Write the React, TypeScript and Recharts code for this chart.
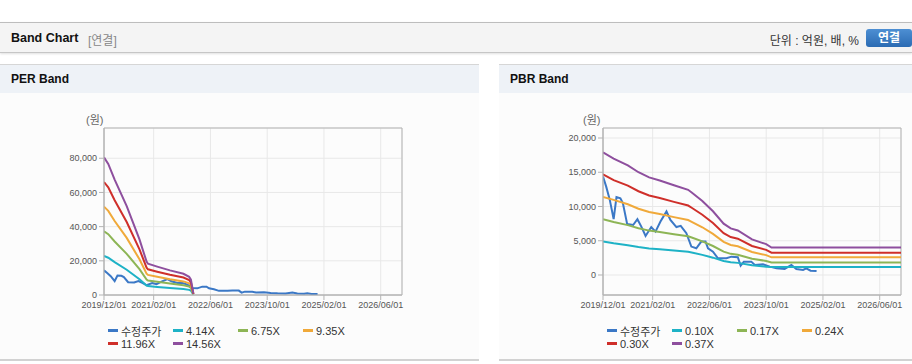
import React from 'react';
import { LineChart, Line, XAxis, YAxis, CartesianGrid, ReferenceArea } from 'recharts';

// ---------- shared x axis (months since 2019/12) ----------
const xTickMonths = [0, 14, 30, 46, 62, 78];
const xTickLabels = ['2019/12/01', '2021/02/01', '2022/06/01', '2023/10/01', '2025/02/01', '2026/06/01'];
const xDomain: [number, number] = [0, 84];

// ---------- 수정주가 (adjusted price) ----------
const priceMonths = [0, 0.9, 1.9, 3, 3.8, 4.9, 5.6, 6.8, 8.5, 9.7, 10.8, 12, 13.6, 14.8, 16.2, 17.9, 19, 20.7, 21.9, 23.5, 24.9, 26.3, 27.7, 28.9, 29.6, 31, 32.4, 34.8, 36.2, 38, 38.8, 39.7, 41.8, 42.8, 45.1, 47, 48.9, 51.2, 53.1, 54.5, 56.4, 57.3, 58.5, 60.2];
const priceValues = [14390, 12900, 11000, 8150, 11370, 11200, 10500, 7460, 7300, 8150, 7070, 5700, 7000, 6340, 7800, 9270, 8050, 7000, 7170, 6100, 4150, 3900, 4880, 4880, 3900, 3400, 2440, 2440, 2680, 2590, 1370, 1950, 1950, 1460, 1560, 1220, 980, 880, 1460, 880, 730, 980, 630, 590];

// ---------- PER band ----------
const perMonths = [0, 1.2, 3, 6.4, 10, 12, 12.4, 15, 18.6, 22.4, 24, 24.5, 25.2];
const per414 = [22900, 21800, 19200, 14800, 9240, 5540, 5200, 4720, 4090, 3530, 3010, 2560, 230];
const per675 = [37300, 35600, 31300, 24100, 15100, 9040, 8480, 7700, 6680, 5750, 4910, 4170, 370];
const per935 = [51700, 49200, 43300, 33400, 20900, 12500, 11750, 10660, 9240, 7960, 6800, 5780, 510];
const per1196 = [66100, 63000, 55400, 42700, 26700, 16000, 15030, 13640, 11830, 10190, 8710, 7390, 660];
const per1456 = [80500, 76700, 67500, 52000, 32500, 19500, 18300, 16600, 14400, 12400, 10600, 9000, 800];
const perYTicks = [0, 20000, 40000, 60000, 80000];
const perYDomain: [number, number] = [0, 97700];
const perLabels = ['수정주가', '4.14X', '6.75X', '9.35X', '11.96X', '14.56X'];

// ---------- PBR band ----------
const pbrMonths = [0, 3, 7, 10, 13, 16, 20, 24, 25, 28, 31, 34, 36, 38, 42, 46, 47.5, 84];
const pbr010 = [4880, 4620, 4350, 4080, 3880, 3750, 3560, 3380, 3280, 2940, 2530, 2040, 1850, 1770, 1410, 1220, 1150, 1150];
const pbr017 = [8150, 7740, 7280, 6830, 6480, 6280, 5960, 5660, 5480, 4910, 4230, 3410, 3090, 2960, 2370, 2050, 1820, 1820];
const pbr024 = [11400, 10970, 10320, 9680, 9190, 8900, 8450, 8020, 7770, 6970, 6000, 4840, 4390, 4190, 3350, 2900, 2580, 2580];
const pbr030 = [14700, 13860, 13040, 12230, 11610, 11250, 10680, 10140, 9820, 8800, 7580, 6110, 5540, 5300, 4240, 3670, 3260, 3260];
const pbr037 = [17900, 17000, 16000, 15000, 14250, 13800, 13100, 12440, 12050, 10800, 9300, 7500, 6800, 6500, 5200, 4500, 4000, 4000];
const pbrYTicks = [0, 5000, 10000, 15000, 20000];
const pbrYDomain: [number, number] = [-2920, 21460];
const pbrLabels = ['수정주가', '0.10X', '0.17X', '0.24X', '0.30X', '0.37X'];

const colors = ['#3b78c6', '#1eb2c6', '#8db555', '#f0a93a', '#cf2f2a', '#8e4f9e'];

const rows = (ms: number[], vs: number[]) => ms.map((m, i) => ({ m, v: vs[i] }));

const FONT = "'Liberation Sans', Arial, 'Noto Sans CJK KR', sans-serif";

type BandProps = {
  width: number;
  rightMargin: number;
  series: { m: number; v: number }[][];
  yTicks: number[];
  yDomain: [number, number];
};

const BandChart = ({ width, rightMargin, series, yTicks, yDomain }: BandProps) => (
  <LineChart width={width} height={230} margin={{ top: 35, right: rightMargin, bottom: 0, left: 0 }}>
    <CartesianGrid stroke="#e8e8e8" />
    <XAxis
      dataKey="m"
      type="number"
      domain={xDomain}
      ticks={xTickMonths}
      allowDataOverflow
      height={28}
      tickSize={5}
      tickMargin={2}
      stroke="#b4b4b4"
      tick={{ fill: '#555', fontSize: 9, fontFamily: FONT }}
      tickFormatter={(v: number) => xTickLabels[xTickMonths.indexOf(v)] ?? ''}
      interval={0}
    />
    <YAxis
      type="number"
      domain={yDomain}
      ticks={yTicks}
      allowDataOverflow
      width={104}
      tickSize={5}
      tickMargin={2}
      stroke="#b4b4b4"
      tick={{ fill: '#555', fontSize: 9, fontFamily: FONT }}
      tickFormatter={(v: number) => v.toLocaleString('en-US')}
      interval={0}
    />
    <ReferenceArea x1={xDomain[0]} x2={xDomain[1]} y1={yDomain[0]} y2={yDomain[1]} fill="none" stroke="#b4b4b4" strokeWidth={1} />
    {series.map((d, i) => (
      <Line
        key={i}
        data={d}
        dataKey="v"
        type="linear"
        stroke={colors[i]}
        strokeWidth={2}
        dot={false}
        activeDot={false}
        isAnimationActive={false}
      />
    ))}
  </LineChart>
);

const LegendBox = ({ labels, left }: { labels: string[]; left: number }) => (
  <div style={{ position: 'absolute', left, top: 259, width: 270 }}>
    {labels.map((l, i) => (
      <div
        key={l}
        style={{
          position: 'absolute',
          left: (i % 4) * 65,
          top: Math.floor(i / 4) * 13,
          height: 13,
          display: 'flex',
          alignItems: 'center',
          whiteSpace: 'nowrap',
          fontSize: 11,
          color: '#333',
          fontFamily: FONT,
        }}
      >
        <span style={{ display: 'inline-block', width: 10, height: 2.5, background: colors[i], marginRight: 3 }} />
        {l}
      </div>
    ))}
  </div>
);

const Panel = ({ left, width, title, children }: { left: number; width: number; title: string; children: React.ReactNode }) => (
  <div
    style={{
      position: 'absolute',
      left,
      top: 64,
      width,
      height: 297,
      background: '#fcfcfc',
      borderTop: '1px solid #d6d6d6',
      borderBottom: '2px solid #d2d2d2',
      boxSizing: 'border-box',
    }}
  >
    <div
      style={{
        height: 28,
        background: '#eef2f7',
        fontFamily: FONT,
        fontWeight: 'bold',
        fontSize: 12,
        color: '#111',
        lineHeight: '28px',
        paddingLeft: 11,
      }}
    >
      {title}
    </div>
    {children}
  </div>
);

export default function App() {
  const priceRows = rows(priceMonths, priceValues);
  const perSeries = [priceRows, rows(perMonths, per414), rows(perMonths, per675), rows(perMonths, per935), rows(perMonths, per1196), rows(perMonths, per1456)];
  const pbrSeries = [priceRows, rows(pbrMonths, pbr010), rows(pbrMonths, pbr017), rows(pbrMonths, pbr024), rows(pbrMonths, pbr030), rows(pbrMonths, pbr037)];

  return (
    <div style={{ position: 'fixed', left: 0, top: 0, width: 912, height: 364, background: '#fff', overflow: 'hidden', fontFamily: FONT }}>
      {/* top header */}
      <div
        style={{
          position: 'absolute',
          left: 0,
          top: 22,
          width: 912,
          height: 31,
          background: '#f4f4f4',
          borderTop: '1px solid #bdbdbd',
          borderBottom: '1px solid #c6c6c6',
          boxShadow: '0 1px 2px rgba(0,0,0,0.12)',
          boxSizing: 'border-box',
        }}
      >
        <span style={{ position: 'absolute', left: 11, top: 8, fontSize: 12.5, fontWeight: 'bold', color: '#111' }}>Band Chart</span>
        <span style={{ position: 'absolute', left: 88, top: 8, fontSize: 12, color: '#888' }}>[연결]</span>
        <span style={{ position: 'absolute', right: 53, top: 8, fontSize: 12, color: '#333' }}>단위 : 억원, 배, %</span>
        <div
          style={{
            position: 'absolute',
            left: 866,
            top: 6,
            width: 46,
            height: 18,
            borderRadius: 3,
            background: 'linear-gradient(#4d8fd3, #2b6bb3)',
            color: '#fff',
            fontWeight: 'bold',
            fontSize: 12,
            lineHeight: '18px',
            textAlign: 'center',
          }}
        >
          연결
        </div>
      </div>

      <Panel left={0} width={479} title="PER Band">
        <div style={{ position: 'absolute', left: 86, top: 46, fontSize: 11, color: '#666' }}>(원)</div>
        <div style={{ position: 'absolute', left: 0, top: 28 }}>
          <BandChart width={479} rightMargin={77} series={perSeries} yTicks={perYTicks} yDomain={perYDomain} />
        </div>
        <LegendBox labels={perLabels} left={108} />
      </Panel>

      <Panel left={499} width={413} title="PBR Band">
        <div style={{ position: 'absolute', left: 84, top: 46, fontSize: 11, color: '#666' }}>(원)</div>
        <div style={{ position: 'absolute', left: 0, top: 28 }}>
          <BandChart width={413} rightMargin={11} series={pbrSeries} yTicks={pbrYTicks} yDomain={pbrYDomain} />
        </div>
        <LegendBox labels={pbrLabels} left={108} />
      </Panel>
    </div>
  );
}
